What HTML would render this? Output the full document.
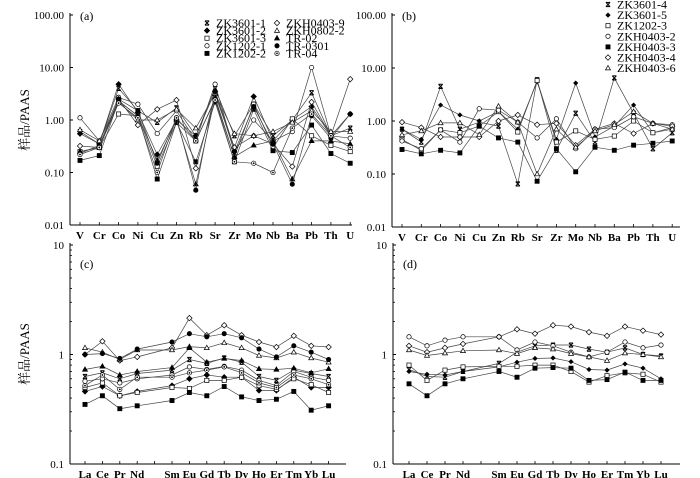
<!DOCTYPE html>
<html><head><meta charset="utf-8"><style>
html,body{margin:0;padding:0;background:#fff;}
svg{display:block;font-family:"Liberation Serif","Noto Serif CJK SC",serif;}
</style></head><body>
<svg id="chart" width="700" height="478" viewBox="0 0 700 478" xmlns="http://www.w3.org/2000/svg"></svg>
<script>
// ---- data ----
const traceElements = ["V","Cr","Co","Ni","Cu","Zn","Rb","Sr","Zr","Mo","Nb","Ba","Pb","Th","U"];
const reeElements = ["La","Ce","Pr","Nd","","Sm","Eu","Gd","Tb","Dy","Ho","Er","Tm","Yb","Lu"];
const groupANames = ["ZK3601-1","ZK3601-2","ZK3601-3","ZK1202-1","ZK1202-2","ZKH0403-9","ZKH0802-2","TR-02","TR-0301","TR-04"];
const groupAMarkers = ["x","fdiamond","osquare","ocircle","fsquare","odiamond","otri","ftri","fcircle","dotcircle"];
const groupBNames = ["ZK3601-4","ZK3601-5","ZK1202-3","ZKH0403-2","ZKH0403-3","ZKH0403-4","ZKH0403-6"];
const groupBMarkers = ["x","fdiamondS","osquare","ocircle","fsquare","odiamond","otri"];
const traceA = [
 [0.6,0.35,4,1.5,0.9,1.7,0.5,4,0.5,2.0,0.5,1.0,3.3,0.5,0.7],
 [0.55,0.35,4.8,1.4,0.22,1.0,0.5,3.5,0.3,2.8,0.4,1.0,1.8,0.5,1.3],
 [0.25,0.3,1.3,1.2,0.13,0.9,0.4,2.5,0.2,2.0,0.3,1.05,0.5,0.33,0.25],
 [1.1,0.4,2.7,2.0,0.55,1.5,0.4,4.8,0.25,1.0,0.4,0.6,10,0.5,0.45],
 [0.17,0.21,2.3,1.2,0.075,0.9,0.16,2.2,0.16,1.6,0.26,0.24,0.8,0.23,0.15],
 [0.32,0.3,2.5,0.8,1.6,2.4,0.12,3,0.3,0.5,0.35,0.13,2.2,0.5,6],
 [0.65,0.4,2.2,1.0,1.0,1.6,0.7,3.2,0.55,0.5,0.6,0.9,1.5,0.6,0.6],
 [0.25,0.3,2.3,1.2,0.17,1.0,0.06,2.7,0.2,0.33,0.4,0.075,0.4,0.4,0.35],
 [0.23,0.33,2.5,1.5,0.15,1.1,0.046,3.5,0.25,1.8,0.35,0.06,1.2,0.45,1.3],
 [0.22,0.3,2.1,1.1,0.1,1.1,0.4,2.4,0.16,0.15,0.1,0.7,1.3,0.5,0.3]
];
const traceB = [
 [0.7,0.4,4.5,0.7,0.95,0.8,0.065,6,0.28,1.4,0.4,6.5,1.4,0.3,0.6],
 [0.7,0.45,2.0,1.3,1.0,1.5,0.7,5.5,0.45,5.2,0.5,0.8,2.0,0.6,0.7],
 [0.45,0.28,0.68,0.6,0.8,1.5,0.62,5.8,0.4,0.65,0.45,0.52,1.0,0.6,0.75],
 [0.42,0.3,0.68,0.4,1.7,1.6,0.95,0.48,1.1,0.3,0.7,0.75,1.2,0.9,0.85],
 [0.29,0.24,0.28,0.25,0.8,0.48,0.4,0.073,0.3,0.11,0.32,0.28,0.35,0.38,0.42],
 [0.95,0.75,0.5,0.5,0.5,1.0,1.3,0.85,0.9,0.35,0.7,0.9,0.58,0.9,0.8],
 [0.55,0.65,0.92,0.92,0.55,1.9,0.95,0.1,0.7,0.32,0.65,0.85,1.5,0.9,0.7]
];
// REE values (null = Pm gap)
const reeA = [
 [0.63,0.68,0.6,0.67,null,0.72,0.9,0.83,0.93,0.85,0.63,0.58,0.72,0.67,0.63],
 [0.46,0.51,0.42,0.46,null,0.52,0.6,0.65,0.62,0.62,0.47,0.47,0.62,0.5,0.5],
 [0.5,0.55,0.42,0.45,null,0.5,0.49,0.58,0.58,0.62,0.52,0.48,0.6,0.53,0.45],
 [0.57,0.6,0.55,0.6,null,0.65,0.77,0.73,0.78,0.72,0.58,0.52,0.7,0.62,0.58],
 [0.35,0.42,0.32,0.34,null,0.38,0.45,0.42,0.51,0.41,0.38,0.39,0.46,0.31,0.34],
 [1.0,1.32,0.88,0.95,null,1.15,2.15,1.5,1.85,1.5,1.3,1.17,1.48,1.2,1.17],
 [1.15,1.05,0.9,1.1,null,1.1,1.18,1.15,1.28,1.15,0.98,0.93,1.05,0.93,0.85],
 [0.73,0.78,0.65,0.7,null,0.76,1.15,0.85,0.92,0.88,0.74,0.73,0.75,0.68,0.74],
 [1.0,1.02,0.92,1.12,null,1.3,1.55,1.45,1.55,1.42,1.12,0.95,1.2,1.05,0.9],
 [0.52,0.65,0.48,0.62,null,0.62,0.68,0.72,0.77,0.68,0.55,0.5,0.65,0.6,0.53]
];
const reeB = [
 [0.73,0.63,0.62,0.7,null,0.83,1.05,1.2,1.22,1.22,1.12,1.05,1.15,1.0,0.97],
 [0.7,0.66,0.65,0.7,null,0.77,0.85,0.92,0.93,0.86,0.73,0.72,0.82,0.75,0.6],
 [0.8,0.58,0.72,0.77,null,0.78,0.78,0.8,0.8,0.7,0.56,0.64,0.68,0.66,0.56],
 [1.45,1.2,1.35,1.45,null,1.45,1.1,1.3,1.2,1.05,0.95,1.05,1.3,1.15,1.22],
 [0.54,0.42,0.54,0.6,null,0.7,0.62,0.75,0.76,0.75,0.58,0.59,0.69,0.58,0.58],
 [1.2,1.05,1.15,1.25,null,1.45,1.7,1.55,1.85,1.8,1.6,1.48,1.8,1.65,1.52],
 [1.1,0.98,1.03,1.08,null,1.1,1.02,1.15,1.12,1.02,0.95,0.88,1.03,1.0,0.95]
];
const traceTicks = [100,10,1,0.1,0.01];
const traceTickLabels = ["100.00","10.00","1.00","0.10","0.01"];
const reeTicks = [10,1,0.1];
const reeTickLabels = ["10","1","0.1"];

// ---- drawing ----
const NS="http://www.w3.org/2000/svg";
const svg=document.getElementById('chart');
function mk(tag,attrs,parent){const e=document.createElementNS(NS,tag);for(const k in attrs)e.setAttribute(k,attrs[k]);(parent||svg).appendChild(e);return e;}

function marker(g,type,x,y){
  const s=2.1;let e;
  if(type==="x"){
    e=mk('path',{d:`M${x-s} ${y-s}L${x+s} ${y+s}M${x-s} ${y+s}L${x+s} ${y-s}M${x-s} ${y-s}H${x+s}M${x-s} ${y+s}H${x+s}`,stroke:'#000','stroke-width':1,fill:'none'},g);
  }else if(type==="fdiamond"||type==="fdiamondS"||type==="odiamond"){
    const r=type==="fdiamondS"?2.1:2.7;
    e=mk('path',{d:`M${x} ${y-r}L${x+r} ${y}L${x} ${y+r}L${x-r} ${y}Z`,fill:type==="odiamond"?'#fff':'#000',stroke:'#000','stroke-width':0.7},g);
  }else if(type==="osquare"||type==="fsquare"){
    e=mk('rect',{x:x-2.1,y:y-2.1,width:4.2,height:4.2,fill:type==="osquare"?'#fff':'#000',stroke:'#000','stroke-width':0.7},g);
  }else if(type==="ocircle"||type==="fcircle"||type==="dotcircle"){
    e=mk('circle',{cx:x,cy:y,r:2.2,fill:type==="fcircle"?'#000':'#fff',stroke:'#000','stroke-width':0.7},g);
    if(type==="dotcircle")mk('circle',{cx:x,cy:y,r:0.9,fill:'#000'},g);
  }else if(type==="otri"||type==="ftri"){
    e=mk('path',{d:`M${x} ${y-2.6}L${x+2.5} ${y+1.8}L${x-2.5} ${y+1.8}Z`,fill:type==="otri"?'#fff':'#000',stroke:'#000','stroke-width':0.7},g);
  }
  return e;
}

function panel(cfg){
  const p=mk('g',{});
  
  
  const ly=v=>cfg.y1-(Math.log10(v)-Math.log10(cfg.vmin))/(Math.log10(cfg.vmax)-Math.log10(cfg.vmin))*(cfg.y1-cfg.y0);
  const lx=i=>cfg.xStart+i*cfg.dx;
  const ya=mk('line',{x1:cfg.ax,y1:cfg.y0-2,x2:cfg.ax,y2:cfg.y1,stroke:'#000','stroke-width':1},p);
  
  const xa=mk('line',{x1:cfg.ax,y1:cfg.y1,x2:cfg.axEnd,y2:cfg.y1,stroke:'#000','stroke-width':1},p);
  
  cfg.ticks.forEach((t,i)=>{
    const y=ly(t);
    mk('line',{x1:cfg.ax,y1:y,x2:cfg.ax+3,y2:y,stroke:'#000','stroke-width':1},p);
    const tx=mk('text',{x:cfg.ax-6,y:y+4,'font-size':11,'text-anchor':'end',fill:'#000'},p);
    tx.textContent=cfg.tickLabels[i];
    
    if(cfg.minor&&i<cfg.ticks.length-1){
      for(let m=2;m<10;m++){const yy=ly(cfg.ticks[i+1]*m);mk('line',{x1:cfg.ax,y1:yy,x2:cfg.ax+2,y2:yy,stroke:'#000','stroke-width':0.8},p);}
    }
  });
  cfg.cats.forEach((c,i)=>{
    const x=lx(i);
    mk('line',{x1:x,y1:cfg.y1,x2:x,y2:cfg.y1-3,stroke:'#000','stroke-width':0.8},p);
    if(c){const t=mk('text',{x:x,y:cfg.y1+14,'font-size':11,'font-weight':'600','text-anchor':'middle',fill:'#000'},p);t.textContent=c;
      }
  });
  const pl=mk('text',{x:cfg.ax+10,y:cfg.letterY,'font-size':12,fill:'#000'},p);pl.textContent=cfg.letter;
  
  cfg.series.forEach((vals,si)=>{
    const g=mk('g',{},p);
    
    
    let d='';let started=false;
    vals.forEach((v,i)=>{if(v==null)return;d+=(started?'L':'M')+lx(i).toFixed(1)+' '+ly(v).toFixed(1);started=true;});
    mk('path',{d:d,fill:'none',stroke:'#444','stroke-width':0.7},g);
    vals.forEach((v,i)=>{if(v==null)return;const m=marker(g,cfg.markers[si],lx(i),ly(v));
      });
  });
  return p;
}

panel({name:'panel-a',letter:'(a)',letterY:20,ax:70,axEnd:352,y0:15,y1:225,vmin:0.01,vmax:100,xStart:80,dx:19.3,cats:traceElements,ticks:traceTicks,tickLabels:traceTickLabels,series:traceA,names:groupANames,markers:groupAMarkers});
panel({name:'panel-b',letter:'(b)',letterY:20,ax:392,axEnd:680,y0:15,y1:227,vmin:0.01,vmax:100,xStart:402,dx:19.3,cats:traceElements,ticks:traceTicks,tickLabels:traceTickLabels,series:traceB,names:groupBNames,markers:groupBMarkers});
panel({name:'panel-c',letter:'(c)',letterY:268,ax:70,axEnd:346,y0:245,y1:464,vmin:0.1,vmax:10,xStart:85,dx:17.4,cats:reeElements,ticks:reeTicks,tickLabels:reeTickLabels,minor:true,series:reeA,names:groupANames,markers:groupAMarkers});
panel({name:'panel-d',letter:'(d)',letterY:268,ax:393,axEnd:680,y0:245,y1:464,vmin:0.1,vmax:10,xStart:409,dx:18,cats:reeElements,ticks:reeTicks,tickLabels:reeTickLabels,minor:true,series:reeB,names:groupBNames,markers:groupBMarkers});

[[120],[354]].forEach(([cy])=>{
  const t=mk('text',{x:0,y:0,'font-size':13,'text-anchor':'middle',transform:`translate(29 ${cy}) rotate(-90)`,fill:'#000'});
  t.textContent='样品/PAAS';
  
  
});

function legend(names,markers,positions,name){
  const g=mk('g',{});
  
  
  names.forEach((n,i)=>{
    const [mx,my]=positions[i];
    const e=mk('g',{},g);
    
    
    marker(e,markers[i],mx,my);
    const t=mk('text',{x:mx+9,y:my+4,'font-size':12,fill:'#000'},e);t.textContent=n;
  });
}
const posA=[];for(let i=0;i<5;i++)posA.push([207,23+i*7.6]);for(let i=0;i<5;i++)posA.push([277,23+i*7.6]);
legend(groupANames,groupAMarkers,posA,'legend-a');
const posB=[];for(let i=0;i<7;i++)posB.push([608,4.5+i*10.6]);
legend(groupBNames,groupBMarkers,posB,'legend-b');
</script>
</body></html>
